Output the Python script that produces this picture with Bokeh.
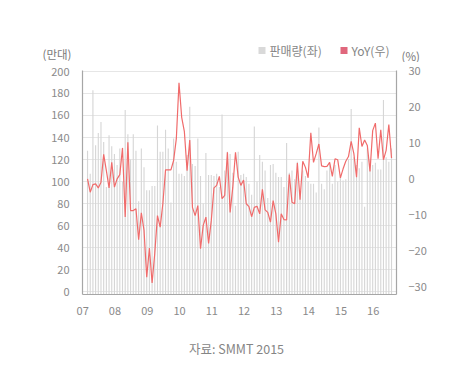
from bokeh.plotting import figure
from bokeh.models import Range1d, LinearAxis, FixedTicker, Plot
from bokeh.layouts import column
from bokeh.core.properties import value
from bokeh.embed import file_html
from bokeh.resources import INLINE

# ---------------- data ----------------
year_labels = ["07", "08", "09", "10", "11", "12", "13", "14", "15", "16"]

# monthly sales (만대), Jan 2007 .. Jun 2016
sales = [
    128, 107, 183, 133, 144, 154, 136, 95, 142, 132, 125, 115,   # 2007
    130, 100, 165, 143, 120, 143, 128, 82, 130, 113, 92, 92,     # 2008
    96, 96, 151, 127, 127, 147, 130, 81, 139, 118, 107, 107,     # 2009
    105, 124, 168, 116, 114, 139, 105, 80, 126, 106, 106, 105,   # 2010
    107, 95, 161, 110, 127, 125, 108, 78, 127, 106, 107, 104,    # 2011
    98, 88, 150, 100, 124, 118, 110, 85, 115, 116, 108, 104,     # 2012
    104, 95, 135, 108, 110, 102, 118, 90, 110, 105, 100, 98,     # 2013
    98, 90, 149, 98, 93, 110, 116, 98, 115, 100, 105, 101,       # 2014
    102, 120, 166, 122, 115, 112, 118, 77, 130, 120, 115, 117,   # 2015
    111, 111, 174, 122, 118, 130,                                # 2016
]

# YoY (%)
yoy = [
    -0.1, -3.8, -1.7, -1.5, -2.6, -1.0, 6.7, 2.2, -2.6, 4.5, -2.4, -0.1,
    1.1, 8.5, -10.7, 10.1, -8.9, -8.9, -8.4, -17.0, -9.5, -14.4, -27.4, -19.3,
    -29.0, -20.7, -10.3, -13.5, -7.0, 2.4, 2.4, 2.4, 5.0, 11.0, 26.6, 17.0,
    13.0, 2.2, 10.7, -8.0, -10.3, -7.5, -19.5, -13.0, -10.7, -18.0, -11.7, -2.6,
    -1.9, 0.6, -5.6, -4.7, 7.3, -9.4, -2.4, 7.3, 0.4, -1.9, -0.4, -7.0,
    -7.8, -10.6, -8.0, -7.7, -9.8, -3.0, -8.7, -9.4, -12.1, -6.1, -9.8, -17.7,
    -9.8, -11.4, -11.5, 1.1, -6.6, -7.0, 4.3, -5.9, 4.8, 3.1, 0.2, 12.7,
    4.5, 6.9, 9.6, 3.5, 3.3, 3.4, 4.5, 0.6, 5.5, 5.2, 0.2, 2.7,
    4.8, 6.1, 10.3, 6.9, 0.4, 14.1, 8.9, 10.7, 9.2, 2.0, 13.3, 15.4,
    5.5, 13.5, 5.2, 7.8, 15.0, 5.7,
]

left_ticks = [0, 20, 40, 60, 80, 100, 120, 140, 160, 180, 200]
right_ticks = [-30, -20, -10, 0, 10, 20, 30]

legend_labels = ["판매량(좌)", "YoY(우)"]
left_unit = "(만대)"
right_unit = "(%)"
source_text = "자료: SMMT 2015"

# ---------------- layout constants ----------------
X_OFFSET = 1.8          # first month sits a little right of the "07" tick
n = len(sales)
xs = [i + X_OFFSET for i in range(n)]
year_ticks = [12 * k for k in range(len(year_labels))]

W = 460
HDR_H, FTR_H = 62, 43
FW, FH = 314, 224
X_RANGE = (-0.07, 116.65)
Y_LEFT = (-2.7, 200.9)
Y_RIGHT = (-32.2, 30.0)

FONT = "Noto Sans CJK KR"
TICK_COLOR = "#8a8a8a"
TEXT_COLOR = "#858585"
AXIS_COLOR = "#a6a6a6"
BAR_COLOR = "#d6d6d6"
LINE_COLOR = "#f06b6b"
LEG_GRAY = "#d9d9d9"
LEG_RED = "#e0677c"

HAS_FRAME_ALIGN = "frame_align" in Plot.properties()


def no_align(f):
    if HAS_FRAME_ALIGN:
        f.frame_align = False
    return f


def blank_fig(h):
    f = figure(width=W, height=h, x_range=Range1d(0, W), y_range=Range1d(h, 0),
               min_border=0, min_border_left=0, min_border_right=0,
               min_border_top=0, min_border_bottom=0,
               x_axis_location=None, y_axis_location=None,
               output_backend="svg", toolbar_location=None,
               background_fill_color="white", border_fill_color="white")
    f.outline_line_color = None
    f.grid.visible = False
    return no_align(f)


# ---------------- header (units + legend) ----------------
hdr = blank_fig(HDR_H)
hdr.text(x=[71], y=[53], text=[left_unit], text_align="right", text_baseline="middle",
         text_font=value(FONT), text_font_size=value("11.5px"), text_color="#7a7a7a")
hdr.text(x=[401], y=[55], text=[right_unit], text_align="left", text_baseline="middle",
         text_font=value(FONT), text_font_size=value("11.5px"), text_color="#7a7a7a")
hdr.quad(left=[258, 340], right=[265, 347], top=[46.5, 46.5], bottom=[53.5, 53.5],
         fill_color=[LEG_GRAY, LEG_RED], line_color=None)
hdr.text(x=[269, 351], y=[50, 50], text=legend_labels, text_align="left", text_baseline="middle",
         text_font=value(FONT), text_font_size=value("12px"), text_color=TEXT_COLOR)

# ---------------- main chart ----------------
p = figure(
    frame_width=FW, frame_height=FH,
    min_border_left=82, min_border_right=W - 82 - FW, min_border_top=8, min_border_bottom=30,
    x_range=Range1d(*X_RANGE), y_range=Range1d(*Y_LEFT),
    output_backend="svg", toolbar_location=None,
    background_fill_color="white", border_fill_color="white",
)
no_align(p)
p.outline_line_color = None
p.extra_y_ranges = {"yoy": Range1d(*Y_RIGHT)}

p.xgrid.grid_line_color = None
p.ygrid.grid_line_color = "#e6e6e6"
p.ygrid.grid_line_width = 1
p.ygrid.ticker = FixedTicker(ticks=left_ticks)

p.vbar(x=xs, top=sales, bottom=Y_LEFT[0], width=0.42,
       fill_color=BAR_COLOR, line_color=None)
p.line(x=xs, y=yoy, y_range_name="yoy", line_color=LINE_COLOR, line_width=1.2)


def style_axis(ax, standoff):
    ax.axis_line_color = AXIS_COLOR
    ax.axis_line_width = 1.2
    ax.major_tick_line_color = None
    ax.minor_tick_line_color = None
    ax.major_label_text_color = TICK_COLOR
    ax.major_label_text_font = FONT
    ax.major_label_text_font_size = "11px"
    ax.major_label_standoff = standoff


xa = p.xaxis[0]
xa.ticker = FixedTicker(ticks=year_ticks)
xa.major_label_overrides = {t: lab for t, lab in zip(year_ticks, year_labels)}
style_axis(xa, 6)

ya = p.yaxis[0]
ya.ticker = FixedTicker(ticks=left_ticks)
style_axis(ya, 7)

ra = LinearAxis(y_range_name="yoy", ticker=FixedTicker(ticks=right_ticks))
style_axis(ra, 6)
p.add_layout(ra, "right")

# ---------------- footer (source) ----------------
ftr = blank_fig(FTR_H)
ftr.text(x=[236], y=[23.5], text=[source_text], text_align="center", text_baseline="middle",
         text_font=value(FONT), text_font_size=value("12.5px"), text_color=TEXT_COLOR)

layout = column(hdr, p, ftr, spacing=0)
open("out.html", "w").write(file_html(layout, INLINE))
